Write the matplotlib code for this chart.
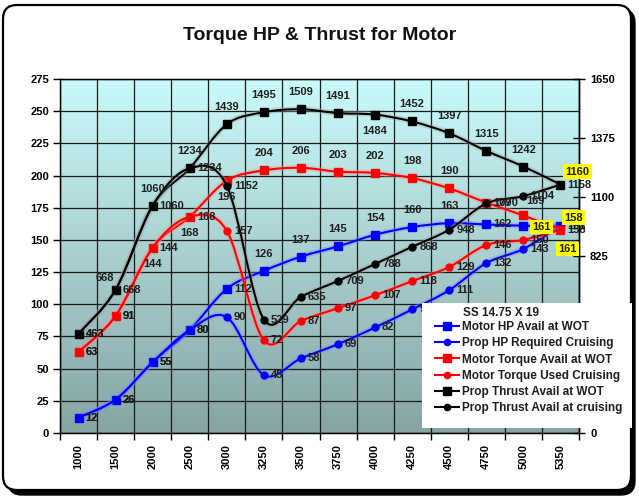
import numpy as np
import matplotlib
matplotlib.use('Agg')
import matplotlib.pyplot as plt
from matplotlib.path import Path
from matplotlib.patches import PathPatch, FancyBboxPatch, Rectangle
from matplotlib.lines import Line2D
from matplotlib.colors import LinearSegmentedColormap
from matplotlib.transforms import IdentityTransform
import matplotlib.patheffects as pe

plt.rcParams['font.family'] = ['Liberation Sans', 'DejaVu Sans']
plt.rcParams['font.weight'] = 'bold'

# ---------------- data ----------------
rpm = ['1000', '1500', '2000', '2500', '3000', '3250', '3500', '3750',
       '4000', '4250', '4500', '4750', '5000', '5350']
hp_wot = [12, 26, 55, 80, 112, 126, 137, 145, 154, 160, 163, 162, 161, 161]
hp_cruise = [12, 26, 55, 80, 90, 45, 58, 69, 82, 96, 111, 132, 143, 161]
torque_wot = [63, 91, 144, 168, 196, 204, 206, 203, 202, 198, 190, 179, 169, 158]
torque_cruise = [63, 91, 144, 168, 157, 72, 87, 97, 107, 118, 129, 146, 150, 158]
thrust_wot = [463, 668, 1060, 1234, 1439, 1495, 1509, 1491, 1484, 1452, 1397, 1315, 1242, 1158]
thrust_cruise = [463, 668, 1060, 1234, 1152, 529, 635, 709, 788, 868, 948, 1070, 1104, 1158]
series_names = ['Motor HP Avail at WOT', 'Prop HP Required Cruising',
                'Motor Torque Avail at WOT', 'Motor Torque Used Cruising',
                'Prop Thrust Avail at WOT', 'Prop Thrust Avail at cruising']
title = 'Torque HP & Thrust for Motor'
legend_title = 'SS 14.75 X 19'
left_ticks = list(range(0, 276, 25))
right_ticks = list(range(0, 1651, 275))
right_tick_labels = ['0', '', '', '825', '1100', '1375', '1650']  # 275 / 550 hidden by legend
# highlighted (yellow) labels: text, series index, point index
highlights = [('1160', 4, 13), ('161', 0, 12), ('158', 2, 13), ('161', 1, 13)]

# ---------------- label placement (style) ----------------
pos_hp_wot = ['r', 'r', 'r', 'r', 'r', 'a', 'a', 'a', 'a', 'a', 'a', 'r', 'n', 'r']
pos_hp_cr = ['r', 'r', 'r', 'r', 'r', 'r', 'r', 'r', 'r', 'r', 'r', 'r', 'r', 'n']
pos_tq_wot = ['r', 'r', 'r', 'r', 'b', 'a', 'a', 'a', 'a', 'a', 'a', 'r', 'ar', 'n']
pos_tq_cr = ['r', 'r', 'b', 'b', 'r', 'r', 'r', 'r', 'r', 'r', 'r', 'r', 'r', 'r']
pos_th_wot = ['r', 'al', 'a', 'a', 'a', 'a', 'a', 'a', 'b', 'a', 'a', 'a', 'a', 'r']
pos_th_cr = ['r', 'r', 'r', 'r', 'r', 'r', 'r', 'r', 'r', 'r', 'r', 'r', 'r', 'n']
hl_offsets = [(17, 13), (18, -1), (13, 12), (7, -23)]

W, H = 639, 498
fig = plt.figure(figsize=(W / 100, H / 100), dpi=100)
fig.patch.set_facecolor('white')

def fx(px):
    return px / W

def fy(py):
    return 1 - py / H

# rounded frame with shadow (pixel coords, y from bottom)
shadow = FancyBboxPatch((8, H - 495), 627, 486, boxstyle='round,pad=0,rounding_size=14',
                        transform=IdentityTransform(), facecolor='black', edgecolor='black',
                        zorder=-3)
frame = FancyBboxPatch((3, H - 490), 628, 485, boxstyle='round,pad=0,rounding_size=14',
                       transform=IdentityTransform(), facecolor='white', edgecolor='black',
                       lw=1.6, zorder=-2)
fig.patches.extend([shadow, frame])

fig.text(fx(320), fy(36), title, ha='center', va='center', fontsize=14,
         fontweight='bold', color='#111111')

ax = fig.add_axes([fx(60), fy(433), fx(579) - fx(60), fy(79) - fy(433)])
n = len(rpm)
x = np.arange(n)
ax.set_xlim(-0.5, n - 0.5)
ax.set_ylim(0, 275)

cmap = LinearSegmentedColormap.from_list('bg', ['#86a4a4', '#a9cfcf', '#c9fbfb'])
ax.imshow(np.linspace(0, 1, 256).reshape(-1, 1), extent=[-0.5, n - 0.5, 0, 275],
          aspect='auto', cmap=cmap, origin='lower', zorder=0)

ax.set_yticks(left_ticks)
ax.set_xticks(x)
ax.set_xticklabels(rpm, rotation=90, fontsize=8, fontweight='bold')
ax.set_xticks(np.arange(-0.5, n, 1), minor=True)
ax.tick_params(axis='x', which='major', length=0, pad=8)
ax.tick_params(axis='x', which='minor', length=5, direction='out', width=1)
ax.tick_params(axis='y', length=5, direction='out', labelsize=8, width=1, pad=3)
for t in ax.get_yticklabels():
    t.set_fontweight('bold')
ax.set_axisbelow(True)
ax.grid(which='minor', axis='x', color='#1a1a1a', lw=0.9)
ax.grid(which='major', axis='y', color='#1a1a1a', lw=0.9)
for s in ax.spines.values():
    s.set_color('black')
    s.set_linewidth(1.0)

ax2 = ax.twinx()
ax2.set_ylim(0, 1650)
ax2.set_yticks(right_ticks)
ax2.set_yticklabels(right_tick_labels)
ax2.tick_params(axis='y', length=8, direction='inout', labelsize=8, width=1, pad=4)
for t in ax2.get_yticklabels():
    t.set_fontweight('bold')
ax2.spines['right'].set_linewidth(1.0)


def smooth_path(xs, ys):
    pts = np.column_stack([xs, ys]).astype(float)
    m = len(pts)
    verts = [pts[0]]
    codes = [Path.MOVETO]
    for i in range(m - 1):
        p0 = pts[i - 1] if i > 0 else pts[i]
        p1 = pts[i]
        p2 = pts[i + 1]
        p3 = pts[i + 2] if i + 2 < m else pts[i + 1]
        c1 = p1 + (p2 - p0) / 6.0
        c2 = p2 - (p3 - p1) / 6.0
        verts += [c1, c2, p2]
        codes += [Path.CURVE4] * 3
    return Path(verts, codes)


series = [
    (ax, hp_wot, '#0000ff', 's', 6, '#8080ff', pos_hp_wot),
    (ax, hp_cruise, '#0000ff', 'o', 5, '#8080ff', pos_hp_cr),
    (ax, torque_wot, '#ff0000', 's', 6, '#ff9090', pos_tq_wot),
    (ax, torque_cruise, '#ff0000', 'o', 5, '#ff9090', pos_tq_cr),
    (ax2, thrust_wot, '#000000', 's', 6, '#a0a0a0', pos_th_wot),
    (ax2, thrust_cruise, '#000000', 'o', 5, '#a0a0a0', pos_th_cr),
]

handles = []
for k, (a, vals, col, mk, ms, halo, _) in enumerate(series):
    p = smooth_path(x, vals)
    patch = PathPatch(p, facecolor='none', edgecolor=col, lw=1.5, zorder=2 + k * 0.1,
                      path_effects=[pe.Stroke(linewidth=4, foreground=halo, alpha=0.35),
                                    pe.Normal()])
    a.add_patch(patch)
    a.plot(x, vals, linestyle='none', marker=mk, ms=ms, color=col, mec=col,
           zorder=2.05 + k * 0.1)
    handles.append(Line2D([], [], color=col, lw=1.5, marker=mk, ms=ms - 0.5, mec=col))

offs = {
    'r': ((7, 0), 'left', 'center'),
    'a': ((0, 17), 'center', 'center'),
    'ar': ((12, 14), 'center', 'center'),
    'al': ((-11, 12), 'center', 'center'),
    'b': ((0, -16), 'center', 'center'),
}
for a, vals, col, mk, ms, halo, poss in series:
    for i, (v, pcode) in enumerate(zip(vals, poss)):
        if pcode == 'n':
            continue
        (dx, dy), ha, va = offs[pcode]
        ax2.annotate(str(v), xy=(i, v), xycoords=a.transData, xytext=(dx, dy),
                     textcoords='offset pixels', ha=ha, va=va, fontsize=8,
                     fontweight='bold', color='#1e1e1e', zorder=10, annotation_clip=False)

for (txt, si, pi), (dx, dy) in zip(highlights, hl_offsets):
    a, vals = series[si][0], series[si][1]
    ax2.annotate(txt, xy=(pi, vals[pi]), xycoords=a.transData, xytext=(dx, dy),
                 textcoords='offset pixels', ha='center', va='center', fontsize=8,
                 fontweight='bold', color='#1e1e1e', zorder=11, annotation_clip=False,
                 bbox=dict(boxstyle='square,pad=0.2', facecolor='#ffff00', edgecolor='none'))

# legend
leg_bg = Rectangle((fx(422), fy(428)), fx(632) - fx(422), fy(303) - fy(428),
                   transform=fig.transFigure, facecolor='white', edgecolor='none', zorder=4)
fig.patches.append(leg_bg)
fig.text(fx(463), fy(313), legend_title, ha='left', va='center', fontsize=8.5,
         fontweight='bold', color='#1e1e1e', zorder=6)
leg = fig.legend(handles, series_names, loc='upper left',
                 bbox_to_anchor=(fx(435), fy(321)), frameon=False, fontsize=8.5,
                 handlelength=2.0, handletextpad=0.25, labelspacing=0.36,
                 borderpad=0, borderaxespad=0)
for t in leg.get_texts():
    t.set_fontweight('bold')
    t.set_color('#1e1e1e')
leg.set_zorder(5)

fig.savefig('out.png', dpi=100)
